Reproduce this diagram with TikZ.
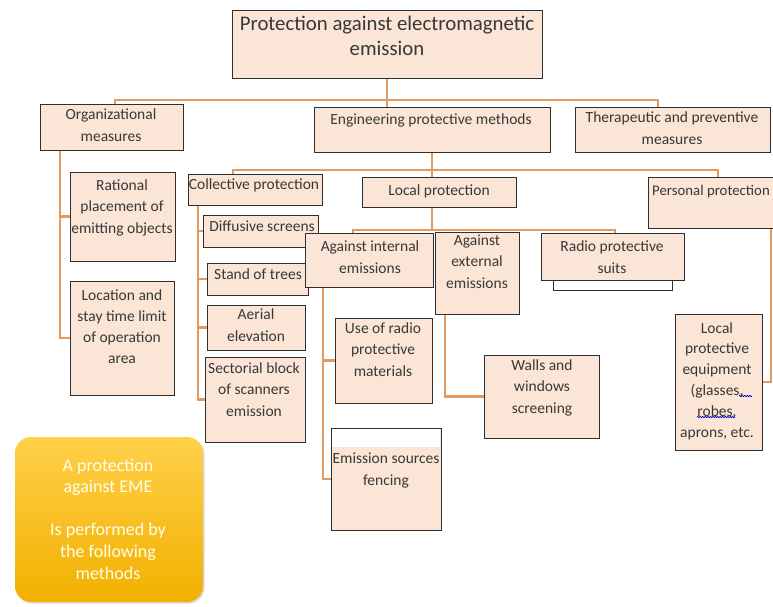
\documentclass[tikz,border=0pt]{standalone}
\usepackage{fontspec}
\setmainfont{Carlito}
\usetikzlibrary{fit,shadows,decorations.pathmorphing}
\definecolor{peach}{HTML}{FBE5D6}
\definecolor{lineor}{HTML}{E49A5E}
\definecolor{bord}{HTML}{2F2F2F}
\definecolor{ink}{HTML}{383838}
\definecolor{goldtop}{HTML}{FFD04A}
\definecolor{goldbot}{HTML}{F2B000}
\begin{document}
\begin{tikzpicture}[x=1pt,y=-1pt,
  box/.style={draw=bord, line width=0.9pt, fill=peach, inner sep=0pt,
    drop shadow={opacity=0.25,shadow xshift=1pt,shadow yshift=-1pt}},
  txt/.style={font=\fontsize{15.5}{21.5}\selectfont, text=ink, align=center, inner sep=0pt, anchor=base},
  conn/.style={draw=lineor, line width=2.8pt},
  wavy/.style={draw=blue!75!black, line width=0.7pt, decorate,
    decoration={snake, amplitude=0.7pt, segment length=2.5pt}},
]
\useasboundingbox (0,0) rectangle (773,606);
\clip (0,0) rectangle (773,606);

% ---------- connectors ----------
\coordinate (b1l) at (115,100);
\coordinate (b1r) at (658,100);
\coordinate (b2l) at (233,170);
\coordinate (b2r) at (718,170);
\coordinate (b2m) at (432,170);
\coordinate (b3l) at (353,230);
\coordinate (b3r) at (615,230);
\coordinate (ov) at (60,0);
\coordinate (cv) at (198,0);
\coordinate (aiv) at (323,0);
\coordinate (aev) at (445,0);
\coordinate (pv) at (771,0);

\path node[inner sep=0pt, fit={(232,10) (542,78)}] (title) {}
      node[inner sep=0pt, fit={(40,104) (183,150)}] (org) {}
      node[inner sep=0pt, fit={(314,107) (550,152)}] (eng) {}
      node[inner sep=0pt, fit={(575,107) (770,152)}] (ther) {}
      node[inner sep=0pt, fit={(70,172) (175,261)}] (rat) {}
      node[inner sep=0pt, fit={(70,281) (174,395)}] (loc) {}
      node[inner sep=0pt, fit={(188,174) (322,205)}] (coll) {}
      node[inner sep=0pt, fit={(203,215) (318,247)}] (diff) {}
      node[inner sep=0pt, fit={(207,263) (308,295)}] (trees) {}
      node[inner sep=0pt, fit={(207,305) (305,350)}] (aer) {}
      node[inner sep=0pt, fit={(205,357) (305,442)}] (sect) {}
      node[inner sep=0pt, fit={(362,177) (516,207)}] (local) {}
      node[inner sep=0pt, fit={(305,233) (433,287)}] (ai) {}
      node[inner sep=0pt, fit={(435,232) (519,314)}] (ae) {}
      node[inner sep=0pt, fit={(541,233) (684,280)}] (radio) {}
      node[inner sep=0pt, fit={(335,318) (432,403)}] (use) {}
      node[inner sep=0pt, fit={(331,428) (441,530)}] (emis) {}
      node[inner sep=0pt, fit={(484,355) (599,438)}] (walls) {}
      node[inner sep=0pt, fit={(648,177) (790,228)}] (pers) {}
      node[inner sep=0pt, fit={(675,314) (762,450)}] (lpe) {};

\draw[conn] (title.south) -- (title.south |- eng.north);
\draw[conn] (org.north -| b1l) |- (b1r) -- (b1r |- ther.north);
\draw[conn] (org.south -| ov) |- (loc.west);
\draw[conn] (ov |- rat.west) -- (rat.west);
\draw[conn] (eng.south) -- (eng.south |- local.north);
\draw[conn] (coll.north -| b2l) |- (b2r) -- (b2r |- pers.north);
\draw[conn] (coll.south -| cv) |- (sect.west);
\draw[conn] (cv |- diff.west) -- (diff.west);
\draw[conn] (cv |- trees.west) -- (trees.west);
\draw[conn] (cv |- aer.west) -- (aer.west);
\draw[conn] (local.south -| b2m) -- (b2m |- b3l);
\draw[conn] (ai.north -| b3l) |- (b3r) -- (b3r |- radio.north);
\draw[conn] (ai.south -| aiv) |- (emis.west);
\draw[conn] (aiv |- use.west) -- (use.west);
\draw[conn] (ae.south -| aev) |- (walls.west);
\draw[conn] (pers.south -| pv) |- (lpe.east);

% ---------- boxes (text anchored at the baseline of its last line) ----------
\node[box, fit={(232,10) (542,78)}] (titleb) {};
\node[txt, font=\fontsize{20.8}{25.5}\selectfont] (title-t) at (387,55.5) {Protection against electromagnetic\\emission};

\node[box, fit={(40,104) (183,150)}] (orgb) {};
\node[txt] (org-t) at (111,141) {Organizational\\measures};

\node[box, fit={(314,107) (550,152)}] (engb) {};
\node[txt] (eng-t) at (431,124) {Engineering protective methods};

\node[box, fit={(575,107) (770,152)}] (therb) {};
\node[txt] (ther-t) at (672,144) {Therapeutic and preventive\\measures};

\node[box, fit={(70,172) (175,261)}] (ratb) {};
\node[txt] (rat-t) at (122,233) {Rational\\placement of\\emitting objects};

\node[box, fit={(70,281) (174,395)}] (locb) {};
\node[txt, font=\fontsize{15.5}{21}\selectfont] (loc-t) at (122,363) {Location and\\stay time limit\\of operation\\area};

\node[box, fit={(188,174) (322,205)}] (collb) {};
\node[txt] (coll-t) at (254,189) {Collective protection};

\node[box, fit={(203,215) (318,247)}] (diffb) {};
\node[txt] (diff-t) at (262,231) {Diffusive screens};

\node[box, fit={(207,263) (308,295)}] (treesb) {};
\node[txt] (trees-t) at (258,279) {Stand of trees};

\node[box, fit={(207,305) (305,350)}] (aerb) {};
\node[txt] (aer-t) at (256,341) {Aerial\\elevation};

\node[box, fit={(205,357) (305,442)}] (sectb) {};
\node[txt] (sect-t) at (254,416) {Sectorial block\\of scanners\\emission};

\node[box, fit={(362,177) (516,207)}] (localb) {};
\node[txt] (local-t) at (439,195) {Local protection};

\node[box, fit={(305,233) (433,287)}] (aib) {};
\node[txt] (ai-t) at (370,273) {Against internal\\emissions};

\node[box, fit={(435,232) (519,314)}] (aeb) {};
\node[txt] (ae-t) at (477,288) {Against\\external\\emissions};

\node[box, fill=white, fit={(553,245) (672,290)}] (suitsback) {};
\node[box, fit={(541,233) (684,280)}] (radiob) {};
\node[txt] (radio-t) at (612,273) {Radio protective\\suits};

\node[box, fit={(335,318) (432,403)}] (useb) {};
\node[txt] (use-t) at (383,376) {Use of radio\\protective\\materials};

\node[box, fit={(331,428) (441,530)}] (emisb) {};
\fill[white] (331.6,428.6) rectangle (440.4,447);
\node[txt] (emis-t) at (386,485) {Emission sources\\fencing};

\node[box, fit={(648,177) (790,228)}] (persb) {};
\node[txt, anchor=base west, font=\fontsize{14.8}{21.5}\selectfont] (pers-t) at (652,195) {Personal protection};

\node[box, fit={(484,355) (599,438)}] (wallsb) {};
\node[txt] (walls-t) at (542,413) {Walls and\\windows\\screening};

\node[box, fit={(675,314) (762,450)}] (lpeb) {};
\node[txt, font=\fontsize{15.5}{20.8}\selectfont] (lpe-t) at (717,437) {Local\\protective\\equipment\\(glasses,\\robes,\\aprons, etc.};
\draw[wavy] (697,417) -- (735,417);
\draw[wavy] (739,396) -- (752,396);

% ---------- yellow note ----------
\node[inner sep=0pt, rounded corners=16pt, top color=goldtop, bottom color=goldbot,
  drop shadow={opacity=0.3,shadow xshift=1.5pt,shadow yshift=-1.5pt},
  fit={(15,437) (203,602)}] (note) {};
\node[txt, font=\fontsize{18}{21.6}\selectfont, text=white!92!yellow] (note-t) at (108,579)
  {A protection\\against EME\\[21.6pt]Is performed by\\the following\\methods};
\end{tikzpicture}
\end{document}
